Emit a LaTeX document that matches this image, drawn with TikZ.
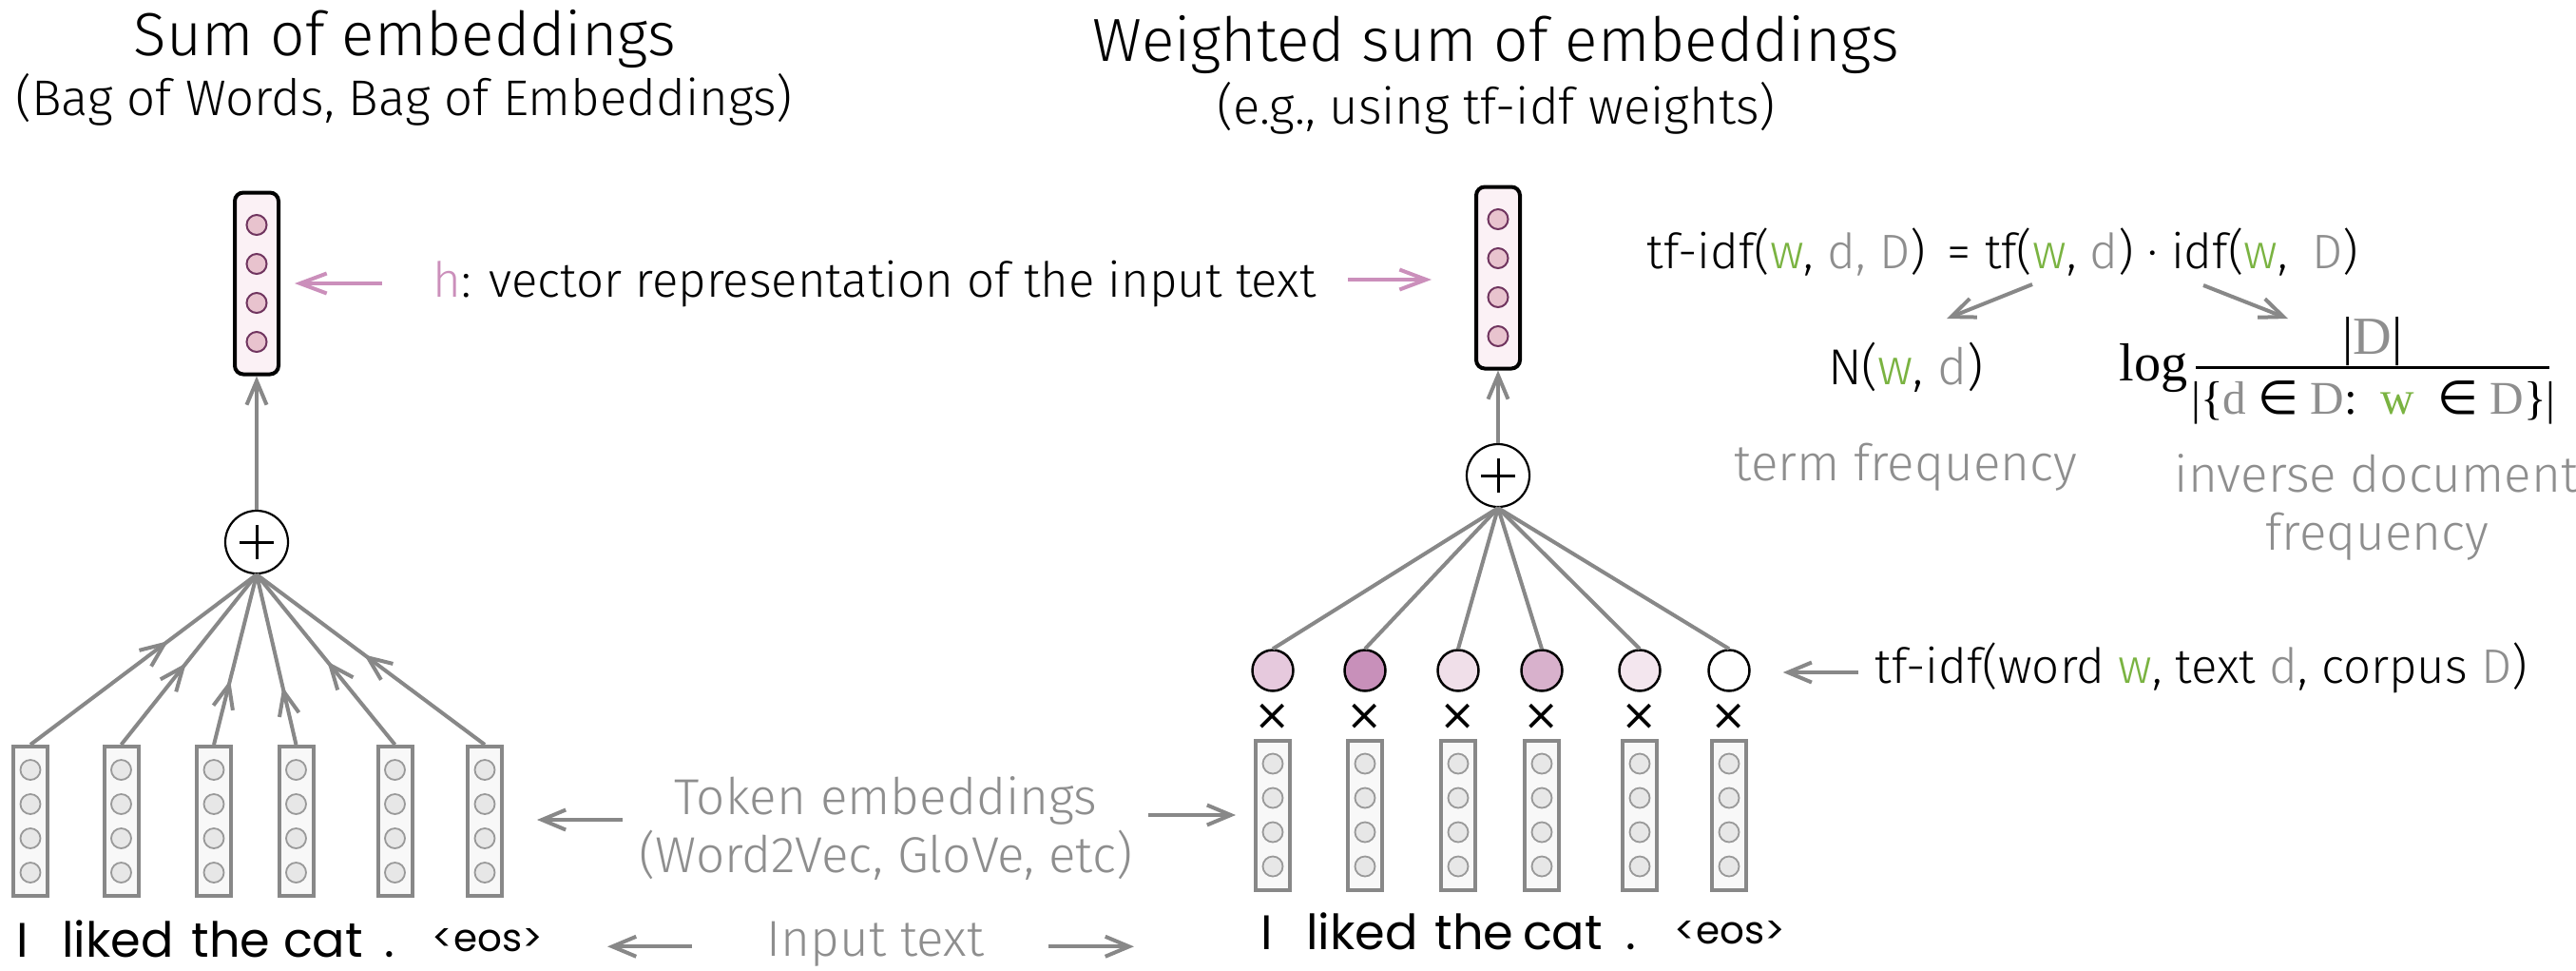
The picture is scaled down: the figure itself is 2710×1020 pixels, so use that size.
\documentclass[tikz,border=0pt]{standalone}
\usepackage{fontspec}
\setmainfont{Fira Sans Light}
\newfontfamily\comicf{Poppins}
\newfontfamily\serf{Liberation Serif}
\newfontfamily\djv{DejaVu Sans}
\usetikzlibrary{arrows.meta,decorations.markings,calc}
\definecolor{arrgray}{HTML}{888888}
\definecolor{txtgray}{HTML}{8E8E8E}
\definecolor{hpink}{HTML}{CB8FBB}
\definecolor{wgreen}{HTML}{7AB341}
\definecolor{hboxfill}{HTML}{FBF1F5}
\definecolor{hdotfill}{HTML}{E8C3CE}
\definecolor{hdotdraw}{HTML}{70355F}
\definecolor{eboxdraw}{HTML}{888888}
\definecolor{eboxfill}{HTML}{F8F8F8}
\definecolor{edotfill}{HTML}{E7E7E7}
\definecolor{edotdraw}{HTML}{999999}
\definecolor{wA}{HTML}{E6C9DD}
\definecolor{wB}{HTML}{C890BA}
\definecolor{wC}{HTML}{F0DFE9}
\definecolor{wD}{HTML}{D8B1CC}
\definecolor{wE}{HTML}{F3E6EE}
\definecolor{wF}{HTML}{FFFFFF}
\newcommand{\wcol}[1]{\textcolor{wgreen}{#1}}
\newcommand{\dcol}[1]{\textcolor{txtgray}{#1}}
\begin{document}
\begin{tikzpicture}[x=0.1mm,y=-0.1mm,
  hbox/.style={draw=black, line width=0.4mm, rounded corners=0.9mm, fill=hboxfill, minimum width=4.6mm, minimum height=19.1mm, inner sep=0pt},
  hdot/.style={circle, draw=hdotdraw, fill=hdotfill, line width=0.2mm, minimum size=2.1mm, inner sep=0pt},
  ebox/.style={draw=eboxdraw, fill=eboxfill, line width=0.4mm, minimum width=3.6mm, minimum height=15.7mm, inner sep=0pt},
  edot/.style={circle, draw=edotdraw, fill=edotfill, line width=0.18mm, minimum size=2.1mm, inner sep=0pt},
  plusnode/.style={circle, draw=black, fill=white, line width=0.22mm, minimum size=6.6mm, inner sep=0pt,
    path picture={
      \draw[line width=0.3mm] ([xshift=-1.8mm]path picture bounding box.center) -- ([xshift=1.8mm]path picture bounding box.center);
      \draw[line width=0.3mm] ([yshift=-1.8mm]path picture bounding box.center) -- ([yshift=1.8mm]path picture bounding box.center);}},
  wdot/.style={circle, draw=black, line width=0.25mm, minimum size=4.3mm, inner sep=0pt},
  gline/.style={draw=arrgray, line width=0.4mm},
  garr/.style={draw=arrgray, line width=0.4mm, -{Straight Barb[length=2.5mm,width=2.1mm]}},
  parr/.style={draw=hpink, line width=0.4mm, -{Straight Barb[length=2.8mm,width=2.1mm]}},
  midarr/.style={postaction={decorate}, decoration={markings, mark=at position #1 with {\arrow{Straight Barb[length=2.5mm,width=2.1mm]}}}},
  bodytext/.style={font=\fontsize{15.1pt}{18pt}\selectfont, inner sep=0pt},
  bodynarrow/.style={font=\fontsize{14.5pt}{17pt}\selectfont, inner sep=0pt},
  graytext/.style={bodytext, text=txtgray},
  titletext/.style={font=\fontsize{18.2pt}{22pt}\selectfont, inner sep=0pt},
  subtext/.style={font=\fontsize{15pt}{18pt}\selectfont, inner sep=0pt},
  comic/.style={font=\comicf\fontsize{14.5pt}{17pt}\selectfont, inner sep=0pt},
  comicsmall/.style={font=\comicf\fontsize{11.5pt}{13pt}\selectfont, inner sep=0pt},
  sertext/.style={font=\serf\fontsize{14pt}{17pt}\selectfont, inner sep=0pt},
  serbig/.style={font=\serf\fontsize{16pt}{19pt}\selectfont, inner sep=0pt},
  timestext/.style={font=\djv\fontsize{13pt}{15pt}\selectfont, inner sep=0pt}
]
\fill[white] (0,0) rectangle (2710,1020);
\useasboundingbox (0,0) rectangle (2710,1020);

% titles
\node[titletext, anchor=base] (lt1) at (426,58) {Sum of embeddings};
\node[subtext, anchor=base] (lt2) at (425,121) {(Bag of Words, Bag of Embeddings)};
\node[titletext, anchor=base] (rt1) at (1574,64) {Weighted sum of embeddings};
\node[subtext, anchor=base] (rt2) at (1574,130) {(e.g., using tf-idf weights)};

% h vectors
\node[hbox] (lh) at (270,298) {};
\node[hbox] (rh) at (1576,292) {};
\foreach \b in {lh,rh}{
  \foreach \k/\dy in {1/-61.5,2/-20.5,3/20.5,4/61.5}{
    \node[hdot] (\b d\k) at ($(\b.center)+(0,\dy)$) {};
  }
}
\node[bodynarrow, anchor=base] (ht) at (920,312) {\textcolor{hpink}{h}: vector representation of the input text};
\draw[parr] ($(lh.east)+(107,0)$) -- ($(lh.east)+(15,0)$);
\draw[parr] ($(rh.west)+(-133,2)$) -- ($(rh.west)+(-45,2)$);

% plus nodes
\node[plusnode] (lp) at (270,570) {};
\node[plusnode] (rp) at (1576,500) {};
\draw[garr] (lp.north) -- (lp.north |- lh.south);
\draw[garr] (rp.north) -- (rp.north |- rh.south);

% left embeddings
\foreach \n/\xx in {1/32,2/127.5,3/225,4/311.5,5/415.5,6/510}{
  \node[ebox] (le\n) at (\xx,863.5) {};
  \foreach \k/\dy in {1/-54,2/-18,3/18,4/54}{
    \node[edot] (le\n d\k) at ($(le\n.center)+(0,\dy)$) {};
  }
}
\foreach \n/\p in {1/0.61,2/0.48,3/0.38,4/0.34,5/0.49,6/0.53}{
  \draw[gline, midarr=\p] (le\n.north) -- (lp.south);
}

% right embeddings and weights
\foreach \n/\xx/\cc in {1/1339/wA,2/1436/wB,3/1534/wC,4/1622/wD,5/1725/wE,6/1819/wF}{
  \node[ebox] (re\n) at (\xx,857) {};
  \foreach \k/\dy in {1/-54,2/-18,3/18,4/54}{
    \node[edot] (re\n d\k) at ($(re\n.center)+(0,\dy)$) {};
  }
  \node[wdot, fill=\cc] (wc\n) at (\xx,705) {};
  \node[timestext] (mx\n) at (\xx,754) {×};
  \draw[gline] (rp.south) -- (wc\n.north);
}

% words
\node[comic, anchor=base] (lw1) at (24,1006) {I};
\node[comic, anchor=base] (lw2) at (124,1006) {liked};
\node[comic, anchor=base] (lw3) at (243,1006) {the};
\node[comic, anchor=base] (lw4) at (340,1006) {cat};
\node[comic, anchor=base] (lw5) at (410,1006) {.};
\node[comicsmall, anchor=base] (lw6) at (513,1000) {<eos>};
\node[comic, anchor=base] (rw1) at (1333,998) {I};
\node[comic, anchor=base] (rw2) at (1433,998) {liked};
\node[comic, anchor=base] (rw3) at (1551,998) {the};
\node[comic, anchor=base] (rw4) at (1644,998) {cat};
\node[comic, anchor=base] (rw5) at (1716,998) {.};
\node[comicsmall, anchor=base] (rw6) at (1820,992) {<eos>};

% middle labels
\node[graytext, anchor=base] (te1) at (932,856) {Token embeddings};
\node[graytext, anchor=base] (te2) at (932,917) {(Word2Vec, GloVe, etc)};
\draw[garr] ($(le6.east)+(125,-1.5)$) -- ($(le6.east)+(35,-1.5)$);
\draw[garr] ($(re1.west)+(-111,0)$) -- ($(re1.west)+(-19,0)$);
\node[graytext, anchor=base] (it) at (921,1005) {Input text};
\draw[garr] ($(it.west)+(-78,3)$) -- ($(it.west)+(-167,3)$);
\draw[garr] ($(it.east)+(67,3)$) -- ($(it.east)+(157,3)$);

% weight label
\node[bodynarrow, anchor=base west] (wl) at (1972,718) {tf-idf(word \wcol{w}, text \dcol{d}, corpus \dcol{D})};
\draw[garr] ($(wc6.east)+(113,2)$) -- ($(wc6.east)+(34,2)$);

% formula
\node[bodynarrow, anchor=base west] (fm) at (1732,282) {tf-idf(\wcol{w}, \dcol{d, D})\hspace{0.45em}= tf(\wcol{w}, \dcol{d}) · idf(\wcol{w},\hspace{0.5em}\dcol{D})};
\coordinate (f1s) at (2138,299);
\coordinate (f1e) at (2048,335);
\coordinate (f2s) at (2318,300);
\coordinate (f2e) at (2407,335);
\draw[garr] (f1s) -- (f1e);
\draw[garr] (f2s) -- (f2e);
\node[bodytext, anchor=base] (nwd) at (2005,404) {N(\wcol{w}, \dcol{d})};
\node[graytext, anchor=base] (tfl) at (2005,505) {term frequency};

% idf fraction
\node[serbig, anchor=base east] (lg) at (2302,400) {log};
\node[serbig, anchor=base] (num) at (2496,372) {|\dcol{D}|};
\draw[line width=0.3mm] (2310,386) -- (2682,386);
\node[sertext, anchor=base] (den) at (2497,435) {|\{\dcol{d} {\djv ∈} \dcol{D}:\ \ \wcol{w}\ \ {\djv ∈} \dcol{D}\}|};
\node[graytext, anchor=base] (idf1) at (2500,517) {inverse document};
\node[graytext, anchor=base] (idf2) at (2501,578) {frequency};
\end{tikzpicture}
\end{document}
